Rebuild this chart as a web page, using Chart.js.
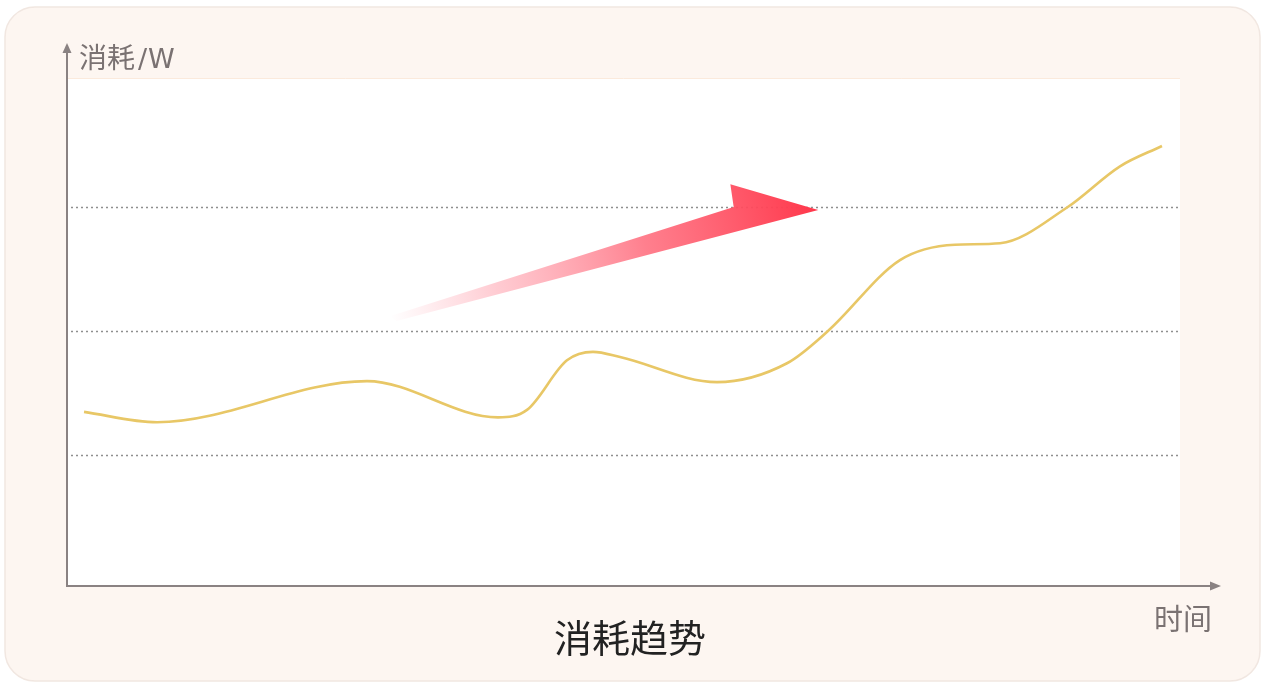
<!DOCTYPE html>
<html>
<head>
<meta charset="utf-8">
<script src="https://cdn.jsdelivr.net/npm/chart.js@4.4.1/dist/chart.umd.min.js"></script>
<style>
  html, body { margin: 0; padding: 0; background: #ffffff; }
  #wrap { position: relative; width: 1265px; height: 686px; overflow: hidden; }
  canvas { position: absolute; left: 0; top: 0; }
  .lbl { position: absolute; font-family: "Noto Sans CJK SC", "Noto Sans", sans-serif; line-height: 1; white-space: nowrap; }
</style>
</head>
<body>
<div id="wrap">
  <canvas id="c" width="1265" height="686"></canvas>
  <div class="lbl" id="ylab" style="left:79px; top:42px; font-size:28px; color:#7a7272;">消耗<span style="margin-left:3px; font-family:'DejaVu Sans', sans-serif; font-size:27px; letter-spacing:1px;">/W</span></div>
  <div class="lbl" id="xlab" style="left:1154px; top:603px; font-size:29px; color:#7a7272;">时间</div>
  <div class="lbl" id="title" style="left:554px; top:617px; font-size:38px; color:#222222;">消耗趋势</div>
</div>
<script>
// ---- data ----
const times  = [1.53, 8.09, 26.95, 38.72, 41.33, 44.92, 47.26, 49.69, 58.40, 64.69, 68.37, 74.84, 79.78, 83.83, 89.85, 94.61, 98.38];
const values = [33.7, 31.6, 39.9, 32.6, 34.1, 44.1, 45.8, 44.75, 39.7, 43.5, 50.0, 64.3, 67.4, 67.7, 74.9, 83.2, 87.3];
const gridValues = [25, 50, 75];
// trend arrow outline in data units [time, value]
const arrowTimes  = [29.0, 59.9, 59.6, 67.5, 29.6];
const arrowValues = [53.0, 75.0, 79.6, 74.4, 52.0];

const decor = {
  id: 'decor',
  beforeDraw(chart) {
    const ctx = chart.ctx, ca = chart.chartArea;
    ctx.save();
    // card
    const x0 = 5, y0 = 7, x1 = 1260, y1 = 681, r = 30;
    ctx.beginPath();
    ctx.moveTo(x0 + r, y0);
    ctx.arcTo(x1, y0, x1, y1, r);
    ctx.arcTo(x1, y1, x0, y1, r);
    ctx.arcTo(x0, y1, x0, y0, r);
    ctx.arcTo(x0, y0, x1, y0, r);
    ctx.closePath();
    ctx.fillStyle = '#fdf6f1';
    ctx.fill();
    ctx.strokeStyle = '#f1e7e1';
    ctx.lineWidth = 1.5;
    ctx.stroke();
    // plot area
    ctx.fillStyle = '#ffffff';
    ctx.fillRect(ca.left, ca.top, ca.right - ca.left, ca.bottom - ca.top);
    ctx.strokeStyle = 'rgba(250,225,205,0.7)';
    ctx.lineWidth = 1;
    ctx.beginPath();
    ctx.moveTo(ca.left, ca.top + 0.5);
    ctx.lineTo(ca.right, ca.top + 0.5);
    ctx.stroke();
    ctx.restore();
  },
  beforeDatasetsDraw(chart) {
    const ctx = chart.ctx, ca = chart.chartArea;
    const xs = chart.scales.x, ys = chart.scales.y;
    ctx.save();
    // dotted grid lines
    ctx.strokeStyle = '#8f8f8f';
    ctx.lineWidth = 1.3;
    ctx.setLineDash([2, 3]);
    gridValues.forEach(v => {
      const py = Math.round(ys.getPixelForValue(v)) + 0.5;
      ctx.beginPath();
      ctx.moveTo(ca.left + 4, py);
      ctx.lineTo(ca.right, py);
      ctx.stroke();
    });
    ctx.setLineDash([]);
    // trend arrow
    const pts = arrowTimes.map((t, i) => [xs.getPixelForValue(t), ys.getPixelForValue(arrowValues[i])]);
    const g = ctx.createLinearGradient(pts[0][0], pts[0][1], pts[3][0], pts[3][1]);
    g.addColorStop(0, 'rgba(255,150,165,0)');
    g.addColorStop(0.25, 'rgba(255,140,155,0.45)');
    g.addColorStop(0.6, 'rgba(255,105,122,0.85)');
    g.addColorStop(1, 'rgba(255,55,75,1)');
    ctx.beginPath();
    pts.forEach((p, i) => i ? ctx.lineTo(p[0], p[1]) : ctx.moveTo(p[0], p[1]));
    ctx.closePath();
    ctx.fillStyle = g;
    ctx.fill();
    ctx.restore();
  },
  afterDraw(chart) {
    const ctx = chart.ctx, ca = chart.chartArea;
    ctx.save();
    ctx.strokeStyle = '#8a8282';
    ctx.fillStyle = '#8a8282';
    ctx.lineWidth = 2;
    // y axis
    ctx.beginPath();
    ctx.moveTo(ca.left, ca.bottom);
    ctx.lineTo(ca.left, 52);
    ctx.stroke();
    ctx.beginPath();
    ctx.moveTo(ca.left, 43);
    ctx.lineTo(ca.left - 4.5, 53);
    ctx.lineTo(ca.left + 4.5, 53);
    ctx.closePath();
    ctx.fill();
    // x axis
    ctx.beginPath();
    ctx.moveTo(ca.left - 1, ca.bottom);
    ctx.lineTo(1212, ca.bottom);
    ctx.stroke();
    ctx.beginPath();
    ctx.moveTo(1221, ca.bottom);
    ctx.lineTo(1210, ca.bottom - 4.5);
    ctx.lineTo(1210, ca.bottom + 4.5);
    ctx.closePath();
    ctx.fill();
    ctx.restore();
  }
};

new Chart(document.getElementById('c'), {
  type: 'line',
  data: {
    datasets: [{
      data: times.map((t, i) => ({ x: t, y: values[i] })),
      borderColor: '#e8c766',
      borderWidth: 2.6,
      pointRadius: 0,
      fill: false,
      cubicInterpolationMode: 'monotone'
    }]
  },
  options: {
    responsive: false,
    animation: false,
    devicePixelRatio: 1,
    layout: { padding: { left: 67, right: 85, top: 78, bottom: 100 } },
    scales: {
      x: { type: 'linear', min: 0, max: 100, display: false },
      y: { type: 'linear', min: -1.4, max: 101, display: false }
    },
    plugins: { legend: { display: false }, tooltip: { enabled: false }, title: { display: false } }
  },
  plugins: [decor]
});
</script>
</body>
</html>
